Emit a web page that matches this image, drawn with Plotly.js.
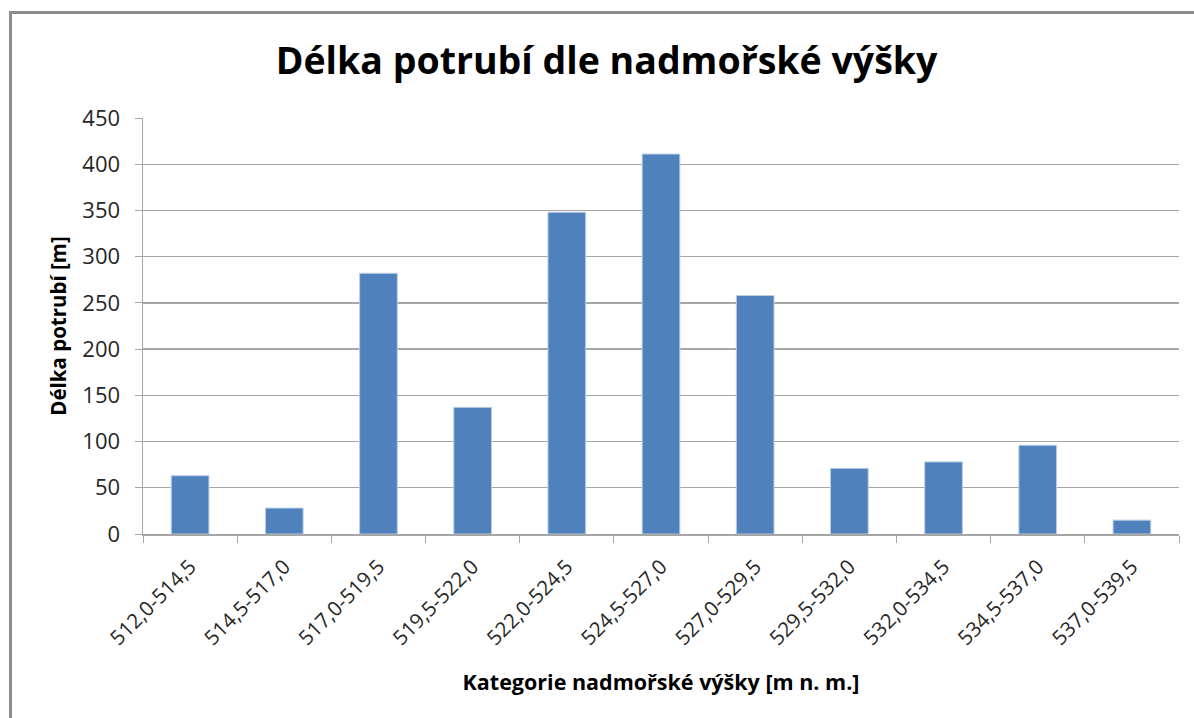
<!DOCTYPE html>
<html>
<head>
<meta charset="utf-8">
<script src="https://cdn.plot.ly/plotly-3.0.1.min.js"></script>
<style>
  html, body { margin: 0; padding: 0; background: #fff; overflow: hidden; }
  #chart { width: 1194px; height: 718px; }
  #frame { position: absolute; left: 9px; top: 11px; width: 1300px; height: 800px;
           border: 3px solid #8c8c8c; pointer-events: none; box-sizing: border-box; }
</style>
</head>
<body>
<div id="chart"></div>
<div id="frame"></div>
<script>
const categories = ["512,0-514,5", "514,5-517,0", "517,0-519,5", "519,5-522,0", "522,0-524,5",
                    "524,5-527,0", "527,0-529,5", "529,5-532,0", "532,0-534,5", "534,5-537,0", "537,0-539,5"];
const lengths = [63, 28, 282, 137, 348, 411, 258, 71, 78, 96, 15];
const yTicks = [0, 50, 100, 150, 200, 250, 300, 350, 400, 450];

const font = "Open Sans, Noto Sans, sans-serif";

Plotly.newPlot("chart", [{
  type: "bar",
  x: categories,
  y: lengths,
  marker: { color: "#4f81bd", line: { color: "#b9cde5", width: 1 } },
  hoverinfo: "x+y"
}], {
  width: 1194, height: 718,
  margin: { l: 143, r: 15, t: 118, b: 184 },
  paper_bgcolor: "#ffffff",
  plot_bgcolor: "#ffffff",
  bargap: 0.6,
  showlegend: false,
  font: { family: font, color: "#262626" },
  title: {
    text: "<b>Délka potrubí dle nadmořské výšky</b>",
    font: { family: font, size: 37.5, color: "#000000" },
    x: 0.508, xanchor: "center", y: 0.915, yanchor: "middle"
  },
  xaxis: {
    type: "category",
    tickangle: -45,
    tickfont: { family: font, size: 20.5, color: "#262626" },
    ticks: "outside", tickson: "boundaries", ticklen: 7, tickcolor: "#a6a6a6", tickwidth: 1,
    ticklabelstandoff: 11,
    showline: true, linecolor: "#a6a6a6", linewidth: 1.5,
    showgrid: false,
    title: { text: "<b>Kategorie nadmořské výšky [m n. m.]</b>", font: { family: font, size: 21.5, color: "#000" }, standoff: 25 }
  },
  yaxis: {
    range: [0, 450],
    tickvals: yTicks,
    tickfont: { family: font, size: 22, color: "#262626" },
    ticks: "outside", ticklen: 7, tickcolor: "#a6a6a6", tickwidth: 1,
    ticklabelstandoff: 10,
    showline: true, linecolor: "#a6a6a6", linewidth: 1.5,
    showgrid: true, gridcolor: "#a6a6a6", gridwidth: 1.3,
    zeroline: false,
    title: { text: "<b>Délka potrubí [m]</b>", font: { family: font, size: 20.5, color: "#000" }, standoff: 10 }
  }
}, { displayModeBar: false, staticPlot: true });
</script>
</body>
</html>
